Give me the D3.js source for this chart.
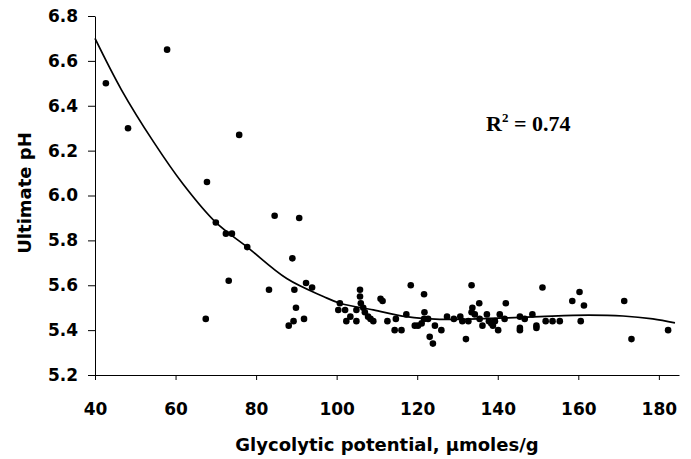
<!DOCTYPE html>
<html>
<head>
<meta charset="utf-8">
<script src="https://cdn.jsdelivr.net/npm/d3@7"></script>
<style>
  body { margin: 0; background: #fff; }
  svg { display: block; }
  .axis text { font-family: "DejaVu Sans", sans-serif; font-weight: bold; font-size: 17px; fill: #000; }
  .axis path, .axis line { stroke: #000; stroke-width: 1; }
</style>
</head>
<body>
<div id="chart"></div>
<script>
// Glycolytic potential vs ultimate pH

// scatter data
const gpX = [42.7, 48.2, 57.9, 75.8, 67.8, 70.0, 72.5, 74.0, 77.8, 84.6, 90.7, 89.0, 73.2, 83.2, 89.5, 92.4, 93.9, 89.9, 67.5, 91.9,
  89.3, 88.1, 100.8, 100.4, 102.1, 102.4, 103.4, 104.9, 104.9, 105.8, 105.8, 106.0, 106.6, 107.0, 107.8, 108.4, 109.1, 110.9, 111.4, 112.6,
  114.7, 114.4, 116.1, 117.3, 118.4, 121.7, 121.8, 119.4, 120.2, 121.1, 121.7, 122.7, 123.1, 123.9, 124.4, 126.0, 127.4, 129.1, 130.7, 131.2,
  132.7, 132.1, 133.5, 133.7, 135.4, 133.5, 134.3, 135.5, 136.2, 137.3, 137.8, 138.4, 139.3, 138.8, 140.1, 140.5, 141.7, 142.0, 145.5, 145.5,
  145.5, 146.7, 148.6, 149.6, 149.6, 151.1, 151.9, 153.6, 155.4, 158.5, 160.3, 161.4, 160.6, 171.4, 173.2, 182.3]
const phY = [6.50, 6.30, 6.65, 6.27, 6.06, 5.88, 5.83, 5.83, 5.77, 5.91, 5.90, 5.72, 5.62, 5.58, 5.58, 5.61, 5.59, 5.50, 5.45, 5.45,
  5.44, 5.42, 5.52, 5.49, 5.49, 5.44, 5.46, 5.44, 5.49, 5.58, 5.55, 5.52, 5.50, 5.48, 5.46, 5.45, 5.44, 5.54, 5.53, 5.44,
  5.45, 5.40, 5.40, 5.47, 5.60, 5.56, 5.48, 5.42, 5.42, 5.43, 5.45, 5.45, 5.37, 5.34, 5.42, 5.40, 5.46, 5.45, 5.46, 5.44,
  5.44, 5.36, 5.60, 5.50, 5.52, 5.48, 5.47, 5.45, 5.42, 5.47, 5.44, 5.43, 5.44, 5.42, 5.40, 5.47, 5.45, 5.52, 5.46, 5.41,
  5.40, 5.45, 5.47, 5.42, 5.41, 5.59, 5.44, 5.44, 5.44, 5.53, 5.57, 5.51, 5.44, 5.53, 5.36, 5.40]

// trend line
const fitX = [40, 46.6, 54.5, 61.9, 70, 77.8, 87.6, 96.7, 100.8, 109.1, 117.3, 125.6, 138, 150.4, 158.7, 171.1, 178.5, 184]
const fitY = [6.70, 6.47, 6.24, 6.05, 5.88, 5.77, 5.63, 5.55, 5.52, 5.49, 5.46, 5.448, 5.452, 5.46, 5.466, 5.463, 5.45, 5.432]

const xTicks = [40, 60, 80, 100, 120, 140, 160, 180]
const yTicks = [5.2, 5.4, 5.6, 5.8, 6.0, 6.2, 6.4, 6.6, 6.8]

const margin = { top: 16, right: 12, bottom: 84, left: 95 }
const width = 691 - margin.left - margin.right
const height = 459 - margin.top - margin.bottom

const svg = d3.select('#chart')
  .append('svg')
  .attr('width', 691)
  .attr('height', 459)

const g = svg.append('g')
  .attr('transform', `translate(${margin.left},${margin.top})`)

const x = d3.scaleLinear().domain([40, 185]).range([0, width])
const y = d3.scaleLinear().domain([5.2, 6.8]).range([height, 0])

// axes
g.append('g')
  .attr('class', 'axis')
  .attr('transform', `translate(0,${height})`)
  .call(d3.axisBottom(x).tickValues(xTicks).tickSize(5).tickPadding(23).tickSizeOuter(0))

g.append('g')
  .attr('class', 'axis')
  .call(d3.axisLeft(y).tickValues(yTicks).tickFormat(d3.format('.1f')).tickSize(7).tickPadding(10).tickSizeOuter(0))

// fitted curve
const line = d3.line()
  .x(d => x(d[0]))
  .y(d => y(d[1]))
  .curve(d3.curveCatmullRom)

g.append('path')
  .datum(d3.zip(fitX, fitY))
  .attr('d', line)
  .attr('fill', 'none')
  .attr('stroke', '#000')
  .attr('stroke-width', 1.7)

// points
g.selectAll('circle')
  .data(d3.zip(gpX, phY))
  .enter().append('circle')
  .attr('cx', d => x(d[0]))
  .attr('cy', d => y(d[1]))
  .attr('r', 3.3)
  .attr('fill', '#000')

// axis titles
svg.append('text')
  .attr('x', 387)
  .attr('y', 451)
  .attr('text-anchor', 'middle')
  .style('font-family', '"DejaVu Sans", sans-serif')
  .style('font-weight', 'bold')
  .style('font-size', '18px')
  .text('Glycolytic potential, µmoles/g')

svg.append('text')
  .attr('transform', 'translate(31,193) rotate(-90)')
  .attr('text-anchor', 'middle')
  .style('font-family', '"DejaVu Sans", sans-serif')
  .style('font-weight', 'bold')
  .style('font-size', '18px')
  .text('Ultimate pH')

// R squared note
const r2 = svg.append('text')
  .attr('x', 486)
  .attr('y', 131)
  .style('font-family', '"Liberation Serif", serif')
  .style('font-weight', 'bold')
  .style('font-size', '22px')
r2.append('tspan').text('R')
r2.append('tspan').attr('dy', -9).style('font-size', '13px').text('2')
r2.append('tspan').attr('dy', 9).text(' = 0.74')
</script>
</body>
</html>
